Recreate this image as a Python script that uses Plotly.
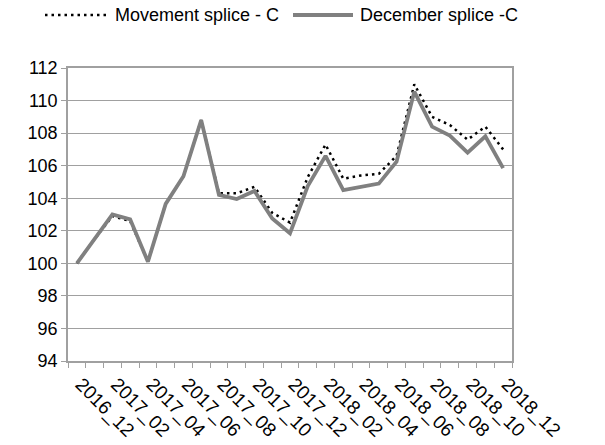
import plotly.graph_objects as go

# Monthly periods, Dec 2016 through Dec 2018
months = [
    "2016_12", "2017_01", "2017_02", "2017_03", "2017_04", "2017_05", "2017_06",
    "2017_07", "2017_08", "2017_09", "2017_10", "2017_11", "2017_12",
    "2018_01", "2018_02", "2018_03", "2018_04", "2018_05", "2018_06",
    "2018_07", "2018_08", "2018_09", "2018_10", "2018_11", "2018_12",
]

# Index values (Dec 2016 = 100)
movement_splice = [
    100.0, 101.5, 102.9, 102.6, 100.1, 103.65, 105.35, 108.8, 104.3, 104.3,
    104.7, 103.1, 102.5, 105.3, 107.3, 105.2, 105.4, 105.5, 106.6, 111.0,
    109.0, 108.5, 107.6, 108.4, 107.0,
]
december_splice = [
    100.0, 101.5, 103.0, 102.7, 100.1, 103.65, 105.35, 108.8, 104.2, 103.95,
    104.45, 102.75, 101.85, 104.75, 106.6, 104.5, 104.7, 104.9, 106.25, 110.55,
    108.4, 107.85, 106.8, 107.8, 105.85,
]

series_names = ["Movement splice - C", "December splice -C"]

# Only every second month is labelled
tick_labels = [m if i % 2 == 0 else "" for i, m in enumerate(months)]
y_ticks = list(range(94, 113, 2))

FONT = "Arial, Liberation Sans, sans-serif"
AXIS_GREY = "#a0a0a0"
DOT_STYLE = dict(color="black", width=2.5, dash="2.5px,4px")
SOLID_STYLE = dict(color="#808080", width=3.8)

W, H = 605, 445
M = dict(l=68, r=93, t=68, b=84)
PW, PH = W - M["l"] - M["r"], H - M["t"] - M["b"]


def px_x(px):
    return (px - M["l"]) / PW


def px_y(py):
    return (H - M["b"] - py) / PH


fig = go.Figure()
fig.add_trace(go.Scatter(
    x=months, y=movement_splice, name=series_names[0],
    mode="lines", line=DOT_STYLE, showlegend=False,
))
fig.add_trace(go.Scatter(
    x=months, y=december_splice, name=series_names[1],
    mode="lines", line=SOLID_STYLE, showlegend=False,
))

# Legend row across the top: line sample followed by its label
legend_y = px_y(15)
legend_items = [
    (45, 110, 113, DOT_STYLE, series_names[0]),
    (293, 353, 358, SOLID_STYLE, series_names[1]),
]
for x0, x1, xt, style, label in legend_items:
    fig.add_shape(
        type="line", xref="paper", yref="paper",
        x0=px_x(x0), x1=px_x(x1), y0=legend_y, y1=legend_y,
        line=style,
    )
    fig.add_annotation(
        xref="paper", yref="paper", x=px_x(xt), y=legend_y,
        xanchor="left", yanchor="middle", showarrow=False,
        text=label, font=dict(family=FONT, size=18, color="black"),
    )

fig.update_layout(
    width=W, height=H, margin=M,
    paper_bgcolor="white", plot_bgcolor="white",
    font=dict(family=FONT, size=18, color="black"),
    showlegend=False,
)
fig.update_xaxes(
    type="category", categoryorder="array", categoryarray=months,
    range=[-0.5, len(months) - 0.5], automargin=False,
    tickmode="array", tickvals=months, ticktext=tick_labels,
    tickson="boundaries", ticks="outside", ticklen=5, tickcolor=AXIS_GREY,
    tickangle=45, ticklabelshift=4, ticklabelstandoff=3,
    showline=True, linecolor=AXIS_GREY, linewidth=1.5,
    mirror=True, showgrid=False, zeroline=False,
    tickfont=dict(size=19, family=FONT, color="black"),
)
fig.update_yaxes(
    range=[94, 112], tickmode="array", tickvals=y_ticks, automargin=False,
    ticks="outside", ticklen=5, tickcolor=AXIS_GREY,
    showline=True, linecolor=AXIS_GREY, linewidth=1.5, mirror=True,
    showgrid=True, gridcolor=AXIS_GREY, gridwidth=1, zeroline=False,
    tickfont=dict(size=18, family=FONT, color="black"),
)

fig.write_html("out.html")
